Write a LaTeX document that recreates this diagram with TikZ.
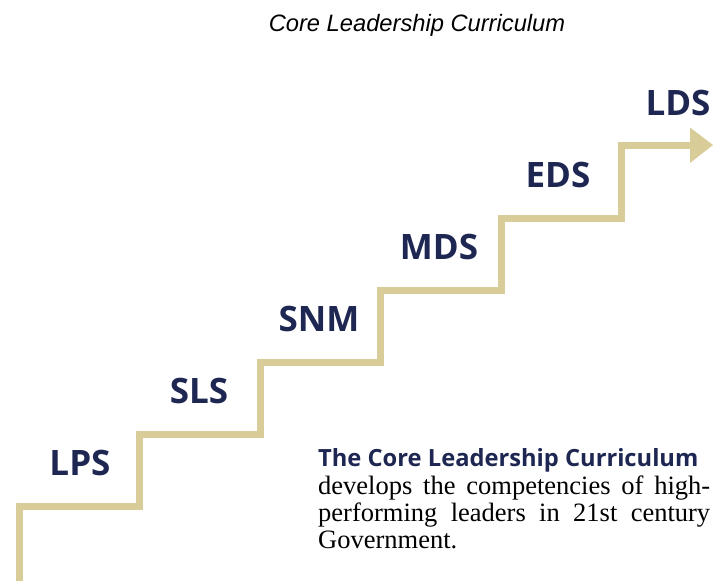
\documentclass[tikz,border=0pt]{standalone}
\usepackage{fontspec}
\setmainfont{Liberation Serif}
\newfontfamily\labfont{Open Sans}
\newfontfamily\titfont{Liberation Sans}
\definecolor{gold}{RGB}{216,205,152}
\definecolor{navy}{RGB}{30,38,82}
\tikzset{
  steplabel/.style={anchor=base, text=navy, font=\labfont\bfseries\fontsize{35}{38}\selectfont, inner sep=0pt},
  stair/.style={draw=gold, line width=7pt, line join=miter, line cap=butt},
  bodyline/.style={anchor=base west, inner sep=0pt, font=\fontsize{26.5}{28}\selectfont},
}
\begin{document}
\begin{tikzpicture}[x=1pt,y=-1pt]
\useasboundingbox (0,0) rectangle (713,581);
\fill[white] (0,0) rectangle (713,581);
% title
\node[anchor=base, inner sep=0pt, font=\titfont\itshape\fontsize{23.7}{26}\selectfont] (title) at (417,31) {Core Leadership Curriculum};
% stairs
\coordinate (s0) at (19,581);
\coordinate (s1) at (19,506);
\coordinate (s2) at (139,506);
\coordinate (s3) at (139,434);
\coordinate (s4) at (260,434);
\coordinate (s5) at (260,362);
\coordinate (s6) at (380,362);
\coordinate (s7) at (380,290);
\coordinate (s8) at (501,290);
\coordinate (s9) at (501,218);
\coordinate (s10) at (621,218);
\coordinate (s11) at (621,145);
\coordinate (s12) at (692,145);
\coordinate (tip) at (713,145);
\draw[stair] (s0) -- (s1) -- (s2) -- (s3) -- (s4) -- (s5) -- (s6) -- (s7) -- (s8) -- (s9) -- (s10) -- (s11) -- (s12);
\fill[gold] (690,127.5) -- (tip) -- (690,163) -- cycle;
% labels
\node[steplabel] (lps) at (80,475) {LPS};
\node[steplabel] (sls) at (199,403) {SLS};
\node[steplabel] (snm) at (319,331) {SNM};
\node[steplabel] (mds) at (439,259) {MDS};
\node[steplabel] (eds) at (558,187) {EDS};
\node[steplabel] (lds) at (678,115) {LDS};
% body text
\node[anchor=base west, inner sep=0pt, text=navy, font=\labfont\bfseries\fontsize{23.7}{26}\selectfont] (body1) at (318,466) {The Core Leadership Curriculum};
\node[bodyline] (body2) at (318,494) {\hbox to 392pt{develops the competencies of high-}};
\node[bodyline] (body3) at (318,521) {\hbox to 392pt{performing leaders in 21st century}};
\node[bodyline] (body4) at (318,548) {Government.};
\end{tikzpicture}
\end{document}
